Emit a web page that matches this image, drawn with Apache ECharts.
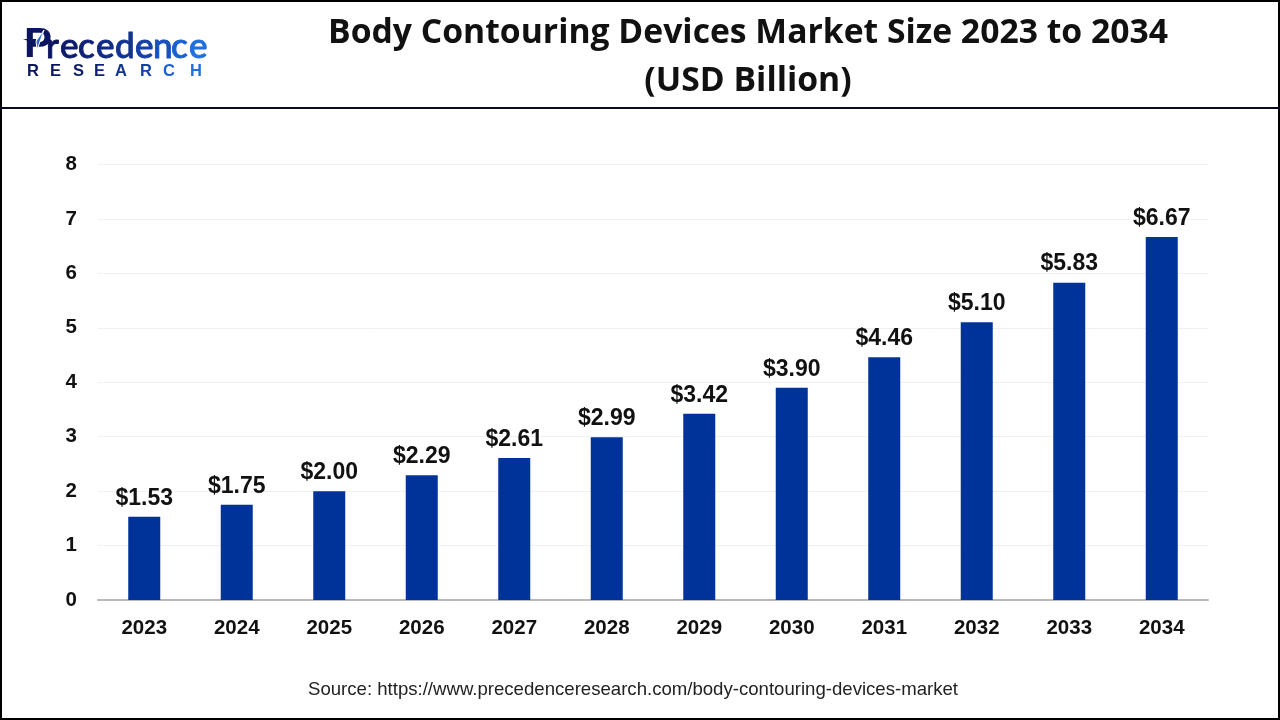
<!DOCTYPE html>
<html>
<head>
<meta charset="utf-8">
<title>Body Contouring Devices Market Size</title>
<script src="https://cdn.jsdelivr.net/npm/echarts@6/dist/echarts.min.js"></script>
<style>
html,body{margin:0;padding:0;background:#fff;}
#container{width:1280px;height:720px;}
</style>
</head>
<body>
<div id="container"></div>
<script>
var years=['2023','2024','2025','2026','2027','2028','2029','2030','2031','2032','2033','2034'];
var marketSize=[1.53,1.75,2.00,2.29,2.61,2.99,3.42,3.90,4.46,5.10,5.83,6.67];
var yTicks=[0,1,2,3,4,5,6,7,8];
var titleLines=['Body Contouring Devices Market Size 2023 to 2034','(USD Billion)'];
var sourceText='Source: https://www.precedenceresearch.com/body-contouring-devices-market';

var myChart=echarts.init(document.getElementById('container'));

// logo, letter by letter so the colour can run from navy to blue
var logoGraphic=[
	{type:'text',x:24,y:45,style:{text:'P',fill:'#0b1560',font:'bold 42px "Liberation Sans"',textAlign:'left',textVerticalAlign:'middle'}},
	{type:'polygon',shape:{points:[[23,39],[36,39],[36,44]]},style:{fill:'#0b1560'}},
	{type:'polygon',shape:{points:[[36,41],[44,30],[37,50]]},style:{fill:'#1f6fe0',stroke:'#fff',lineWidth:1}}
];
var logoWord='recedence'.split('');
var logoWordColors=['#0b1560','#0d1b6b','#0f2278','#102a85','#123392','#1540a8','#1850c0','#1b60d2','#1f6fe0'];
var logoWordX=[46,60,78,96,115,135,153,171,189];
logoWord.forEach(function(c,i){
	logoGraphic.push({type:'text',x:logoWordX[i],y:47,style:{text:c,fill:logoWordColors[i],stroke:logoWordColors[i],lineWidth:0.9,font:'500 35px Lato',textAlign:'left',textVerticalAlign:'middle'}});
});
var logoSub='RESEARCH'.split('');
var logoSubColors=['#0b1560','#0b1560','#0d1b6b','#0f2278','#123392','#1540a8','#1b60d2','#1f6fe0'];
var logoSubX=[27,50,73,94,115,140,163,190];
logoSub.forEach(function(c,i){
	logoGraphic.push({type:'text',x:logoSubX[i],y:71.5,style:{text:c,fill:logoSubColors[i],font:'bold 16.5px "Liberation Sans"',textAlign:'left',textVerticalAlign:'middle'}});
});

var option={
	animation:false,
	backgroundColor:'#fff',
	grid:{left:98,right:72,top:164.5,bottom:120},
	xAxis:{
		type:'category',
		data:years,
		axisTick:{show:false},
		axisLine:{lineStyle:{color:'#b8b8b8',width:2}},
		axisLabel:{color:'#111',fontFamily:'Liberation Sans',fontWeight:'bold',fontSize:20.5,margin:18}
	},
	yAxis:{
		type:'value',
		min:yTicks[0],
		max:yTicks[yTicks.length-1],
		interval:1,
		axisLine:{show:false},
		axisTick:{show:false},
		splitLine:{lineStyle:{color:'#f0f0f0',width:1}},
		axisLabel:{color:'#111',fontFamily:'Liberation Sans',fontWeight:'bold',fontSize:20.5,margin:21}
	},
	series:[{
		type:'bar',
		data:marketSize,
		barWidth:32,
		itemStyle:{color:'#003399'},
		label:{
			show:true,
			position:'top',
			distance:7,
			color:'#111',
			fontFamily:'Liberation Sans',
			fontWeight:'bold',
			fontSize:23,
			formatter:function(p){return '$'+p.value.toFixed(2);}
		}
	}],
	graphic:[
		{type:'rect',silent:true,shape:{x:1,y:1,width:1278,height:718},style:{fill:'none',stroke:'#000',lineWidth:2}},
		{type:'line',silent:true,shape:{x1:0,y1:108,x2:1280,y2:108},style:{stroke:'#0a0a28',lineWidth:2}},
		{type:'text',x:748,y:33,style:{text:titleLines[0],fill:'#111',font:'bold 33.7px "Open Sans"',textAlign:'center',textVerticalAlign:'middle'}},
		{type:'text',x:748,y:81,style:{text:titleLines[1],fill:'#111',font:'bold 33.7px "Open Sans"',textAlign:'center',textVerticalAlign:'middle'}},
		{type:'text',x:633,y:690,style:{text:sourceText,fill:'#222',font:'18.6px "Liberation Sans"',textAlign:'center',textVerticalAlign:'middle'}}
	].concat(logoGraphic)
};
myChart.setOption(option,true);
</script>
</body>
</html>
